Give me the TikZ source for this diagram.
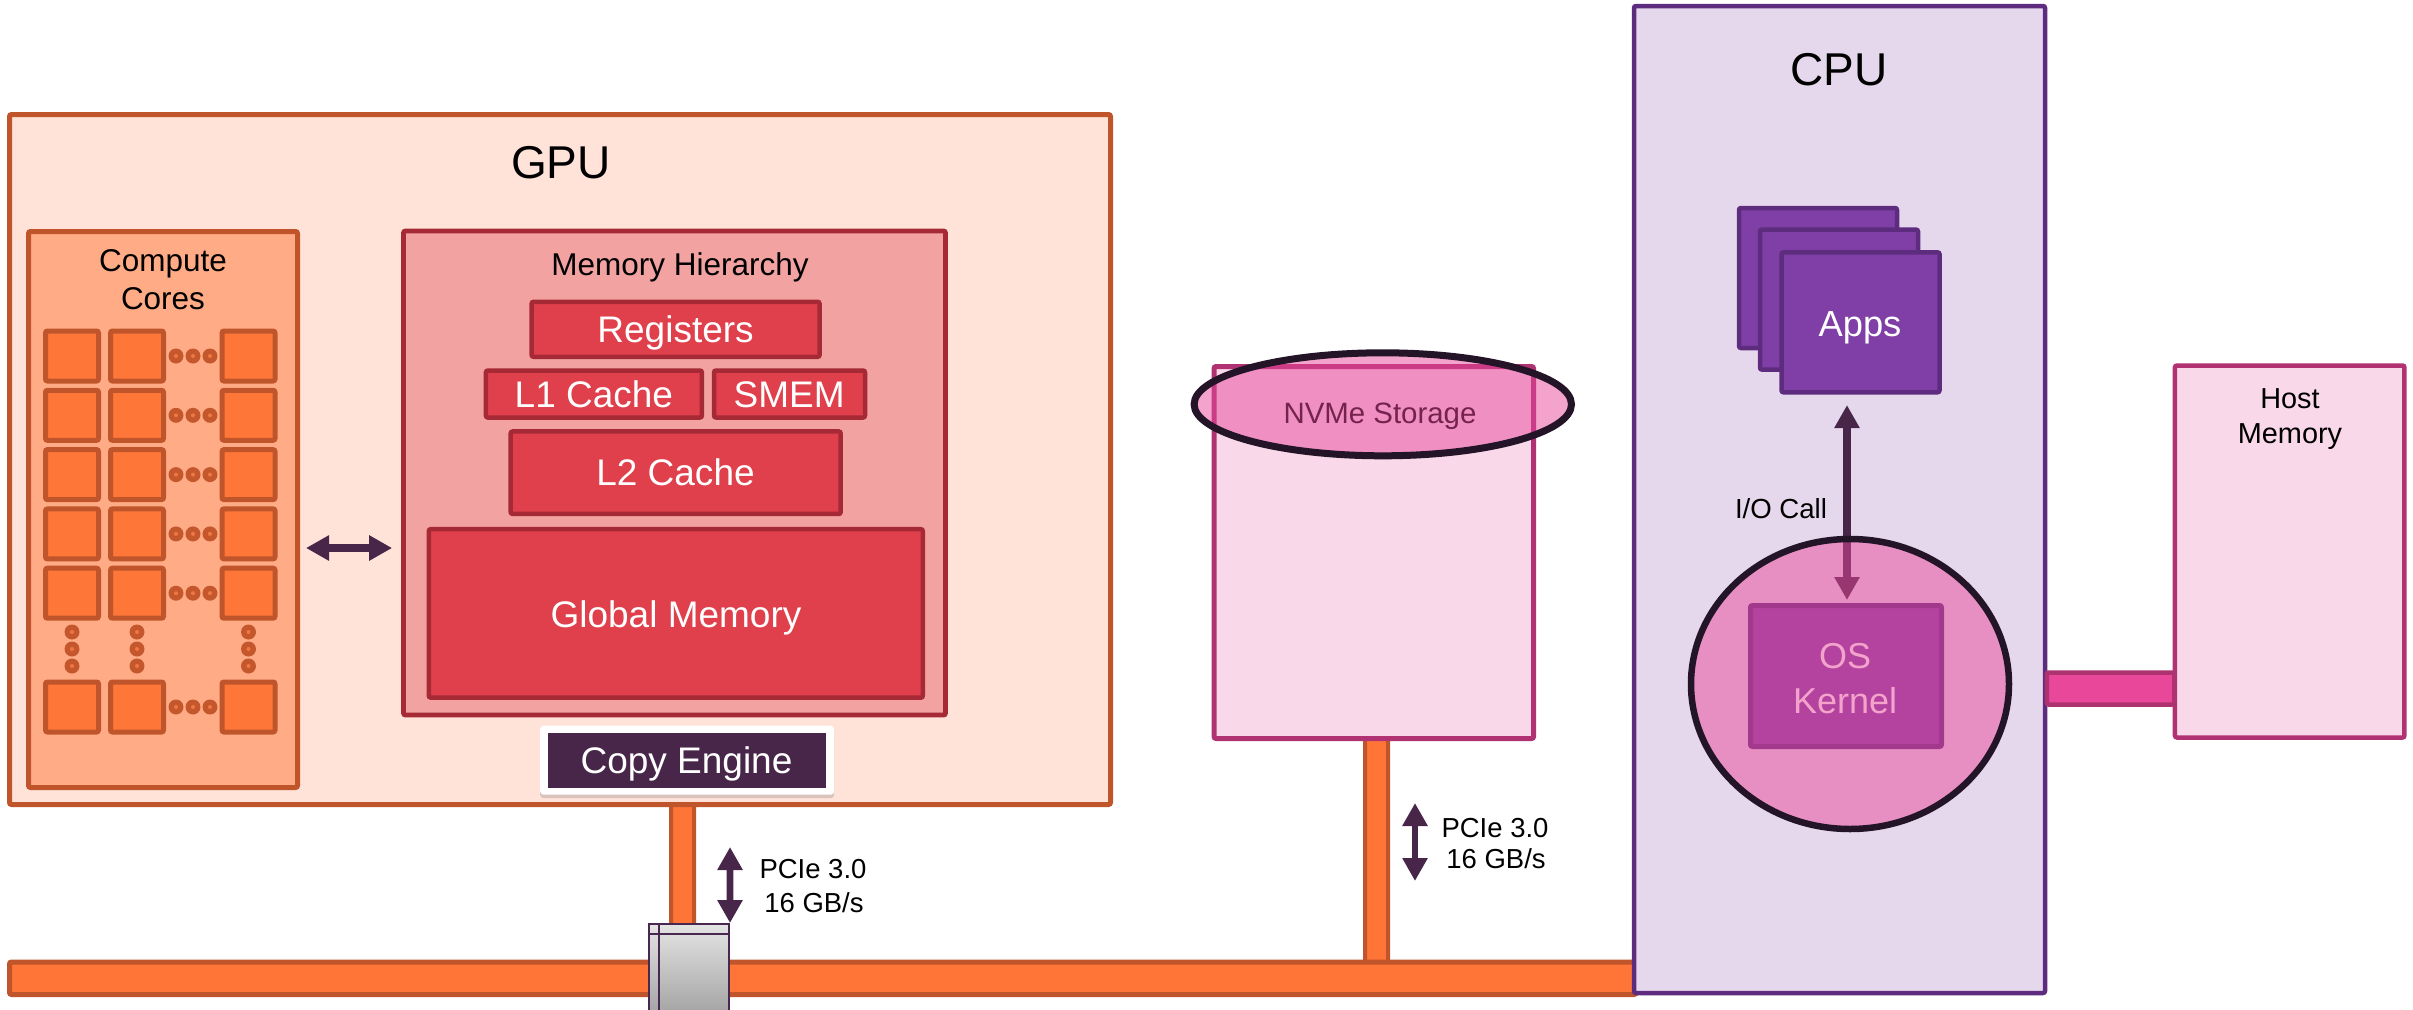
\documentclass[tikz,border=0pt]{standalone}
\usepackage{fontspec}
\setmainfont{Liberation Sans}
\usetikzlibrary{arrows.meta,shadows,shapes.geometric}

\definecolor{gpuFill}{HTML}{FFE2D8}
\definecolor{gpuLine}{HTML}{C0552C}
\definecolor{ccFill}{HTML}{FFAB86}
\definecolor{coreFill}{HTML}{FF7639}
\definecolor{dotDark}{HTML}{C4582C}
\definecolor{dotLight}{HTML}{EE7844}
\definecolor{mhFill}{HTML}{F2A2A0}
\definecolor{mhLine}{HTML}{A52A36}
\definecolor{memFill}{HTML}{E0404B}
\definecolor{ceFill}{HTML}{48264A}
\definecolor{arrowC}{HTML}{48264A}
\definecolor{busFill}{HTML}{FF7538}
\definecolor{busLine}{HTML}{C0542A}
\definecolor{swTop}{HTML}{E4E4E4}
\definecolor{swBot}{HTML}{A3A3A3}
\definecolor{swLine}{HTML}{4A2750}
\definecolor{nvFill}{HTML}{F9D8E9}
\definecolor{nvLine}{HTML}{B03272}
\definecolor{ovPink}{HTML}{E8479A}
\definecolor{ringC}{HTML}{231428}
\definecolor{cpuFill}{HTML}{E6D8EC}
\definecolor{cpuLine}{HTML}{5E2C7E}
\definecolor{appFill}{HTML}{803FA6}
\definecolor{linkLine}{HTML}{AE3270}

\newcommand\fsz[1]{\fontsize{#1}{#1}\selectfont}

\begin{document}
\begin{tikzpicture}[x=0.1mm,y=-0.1mm,
  blk/.style={draw, rectangle, inner sep=0pt, rounded corners=0.2mm},
  gpubox/.style={blk, fill=gpuFill, draw=gpuLine, line width=0.5mm},
  ccbox/.style={blk, fill=ccFill, draw=gpuLine, line width=0.5mm},
  core/.style={blk, fill=coreFill, draw=gpuLine, line width=0.5mm,
    minimum width=5.3mm, minimum height=5.0mm},
  mhbox/.style={blk, fill=mhFill, draw=mhLine, line width=0.48mm},
  membox/.style={blk, fill=memFill, draw=mhLine, line width=0.45mm},
  pipe/.style={blk, fill=busFill, draw=busLine, line width=0.4mm},
  pinkbox/.style={blk, fill=nvFill, draw=nvLine, line width=0.5mm},
  cpubox/.style={blk, fill=cpuFill, draw=cpuLine, line width=0.45mm},
  appbox/.style={blk, fill=appFill, draw=cpuLine, line width=0.45mm,
    minimum width=15.8mm, minimum height=14.0mm},
  overlay/.style={ellipse, inner sep=0pt, draw=ringC, fill=ovPink,
    fill opacity=0.5, draw opacity=1},
  lbl/.style={inner sep=0pt, anchor=base},
  dbl/.style={draw=arrowC, line width=0.72mm, {Triangle[length=2.3mm,width=2.4mm]}-{Triangle[length=2.3mm,width=2.4mm]}},
]
\useasboundingbox (0,0) rectangle (2413,1009);
\clip (0,0) rectangle (2413,1009);

% ---------- PCIe links and system bus ----------
\node[pipe, minimum width=2.3mm, minimum height=16.2mm] (gpipe) at (682.5,881) {};
\node[pipe, minimum width=2.3mm, minimum height=23mm] (npipe) at (1376.5,850) {};
\node[blk, fill=busFill, draw=busLine, line width=0.5mm,
      minimum width=162.65mm, minimum height=3.25mm] (bus) at (822.75,978.25) {};

% PCIe switch
\node[rectangle, inner sep=0pt, draw=swLine, line width=0.2mm,
      top color=swTop, bottom color=swBot,
      minimum width=8.0mm, minimum height=9.1mm] (sw) at (689,969.5) {};
\draw[swLine, line width=0.15mm] (659,0 |- sw.north) -- (659,0 |- sw.south);
\draw[swLine, line width=0.15mm] (sw.west |- 0,934) -- (sw.east |- 0,934);

% ---------- GPU ----------
\node[gpubox, minimum width=110.1mm, minimum height=69.0mm] (gpu) at (560,459.5) {};
\node[lbl, font=\fsz{13.09pt}] (gpu-lbl) at (561,178) {GPU};

% compute cores
\node[ccbox, minimum width=26.9mm, minimum height=55.6mm] (cc) at (163,509.5) {};
\node[lbl, font=\fsz{8.96pt}] (cc-lbl1) at (163,271) {Compute};
\node[lbl, font=\fsz{8.96pt}] (cc-lbl2) at (163,309) {Cores};
\foreach \cx [count=\c] in {72,137,248.5} {
  \foreach \cy [count=\r] in {356,415.3,474.6,533.9,593.2,707} {
    \node[core] (core-\r-\c) at (\cx,\cy) {};
  }
}
% ellipsis dots between the core columns and rows
\foreach \cy in {356,415.3,474.6,533.9,593.2,707} {
  \foreach \dx in {176,193,210} {
    \fill[dotDark] (\dx,\cy) circle[radius=0.75mm];
    \fill[dotLight] (\dx,\cy) circle[radius=0.2mm];
  }
}
\foreach \cx in {72,137,248.5} {
  \foreach \dy in {632,649,666} {
    \fill[dotDark] (\cx,\dy) circle[radius=0.75mm];
    \fill[dotLight] (\cx,\dy) circle[radius=0.2mm];
  }
}

% memory hierarchy
\node[mhbox, minimum width=54.2mm, minimum height=48.4mm] (mh) at (674.5,473) {};
\node[lbl, font=\fsz{8.96pt}] (mh-lbl) at (680,275) {Memory Hierarchy};
\node[membox, minimum width=28.8mm, minimum height=5.5mm] (reg) at (675.6,329.3) {};
\node[membox, minimum width=21.6mm, minimum height=4.7mm] (l1) at (593.9,394) {};
\node[membox, minimum width=15.1mm, minimum height=4.7mm] (smem) at (789.5,394) {};
\node[membox, minimum width=33.0mm, minimum height=8.25mm] (l2) at (675.7,472.7) {};
\node[membox, minimum width=49.4mm, minimum height=16.85mm] (glob) at (675.8,613.4) {};
\node[lbl, font=\fsz{10.53pt}, text=white] (reg-lbl) at (675.6,342.3) {Registers};
\node[lbl, font=\fsz{10.53pt}, text=white] (l1-lbl) at (593.9,407.5) {L1 Cache};
\node[lbl, font=\fsz{10.53pt}, text=white] (smem-lbl) at (789.2,407.5) {SMEM};
\node[lbl, font=\fsz{10.53pt}, text=white] (l2-lbl) at (675.5,485) {L2 Cache};
\node[lbl, font=\fsz{10.53pt}, text=white] (glob-lbl) at (676,627) {Global Memory};

% copy engine
\node[rectangle, inner sep=0pt, fill=white, rounded corners=0.35mm,
      minimum width=29.4mm, minimum height=6.9mm,
      drop shadow={opacity=0.3, shadow xshift=0mm, shadow yshift=-0.35mm}] (ce-frame) at (687.2,760.2) {};
\node[rectangle, inner sep=0pt, fill=ceFill, minimum width=27.8mm, minimum height=5.5mm] (ce) at (687.4,760.2) {};
\node[lbl, font=\fsz{10.53pt}, text=white] (ce-lbl) at (686.5,773) {Copy Engine};

% cores <-> memory
\draw[dbl, shorten <=0.6mm, shorten >=0.9mm] (cc.east |- 0,548) -- (mh.west |- 0,548);

% ---------- NVMe storage ----------
\node[pinkbox, minimum width=31.95mm, minimum height=37.2mm] (nvme) at (1373.8,552.5) {};
\node[lbl, font=\fsz{8.37pt}] (nvme-lbl) at (1380,423.3) {NVMe Storage};
\node[overlay, line width=0.7mm, minimum width=37.74mm, minimum height=10.3mm] (nvme-cap) at (1382.8,404.3) {};

% ---------- CPU ----------
\node[cpubox, minimum width=41.1mm, minimum height=98.7mm] (cpu) at (1839.5,499.5) {};
\node[lbl, font=\fsz{13.09pt}] (cpu-lbl) at (1839,85) {CPU};
\node[appbox] (app1) at (1818,278) {};
\node[appbox] (app2) at (1839,299.6) {};
\node[appbox] (app3) at (1860.5,322.3) {};
\node[lbl, font=\fsz{10.33pt}, text=white] (app-lbl) at (1860,336) {Apps};

\node[appbox, minimum width=19.1mm, minimum height=14.1mm, line width=0.5mm] (os) at (1846,676) {};
\node[lbl, font=\fsz{10.24pt}, text=white] (os-lbl1) at (1845,668) {OS};
\node[lbl, font=\fsz{10.24pt}, text=white] (os-lbl2) at (1845,713) {Kernel};
\draw[dbl, shorten <=1.05mm, shorten >=0.3mm] (1847,0 |- app3.south) -- (1847,0 |- os.north);
\node[lbl, font=\fsz{7.85pt}] (io-lbl) at (1781,518) {I/O Call};
\node[overlay, line width=0.65mm, minimum width=31.8mm, minimum height=29.0mm] (kernel-space) at (1850,684) {};

% ---------- host memory ----------
\node[blk, fill=ovPink, draw=linkLine, line width=0.45mm,
      minimum width=12.75mm, minimum height=3.2mm] (hostlink) at (2110.5,688.5) {};
\node[pinkbox, line width=0.45mm, minimum width=22.95mm, minimum height=37.2mm] (host) at (2289.7,551.5) {};
\node[lbl, font=\fsz{8.22pt}] (host-lbl1) at (2290,408) {Host};
\node[lbl, font=\fsz{8.22pt}] (host-lbl2) at (2290,443) {Memory};

% ---------- PCIe bandwidth markers ----------
\coordinate (pg-top) at (730,847);
\draw[dbl, line width=0.68mm] (pg-top) -- (sw.north east);
\node[lbl, font=\fsz{7.82pt}] (pg-lbl1) at (813,878) {PCIe 3.0};
\node[lbl, font=\fsz{7.82pt}] (pg-lbl2) at (814,912) {16 GB/s};

\coordinate (pn-top) at (1415,803);
\coordinate (pn-bot) at (1415,881);
\draw[dbl, line width=0.68mm] (pn-top) -- (pn-bot);
\node[lbl, font=\fsz{7.82pt}] (pn-lbl1) at (1495,837) {PCIe 3.0};
\node[lbl, font=\fsz{7.82pt}] (pn-lbl2) at (1496,868) {16 GB/s};
\end{tikzpicture}
\end{document}
